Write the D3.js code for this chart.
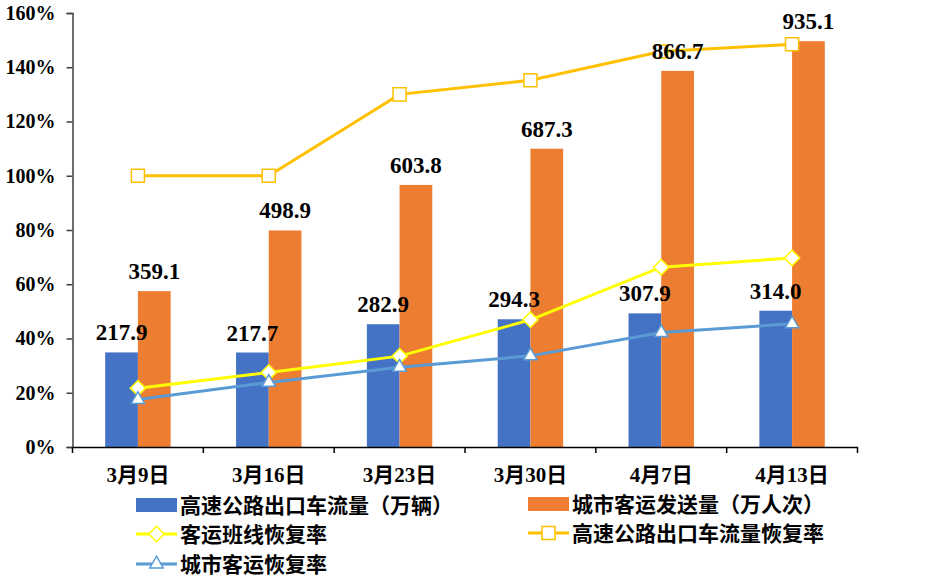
<!DOCTYPE html>
<html>
<head>
<meta charset="utf-8">
<script src="https://cdn.jsdelivr.net/npm/d3@7"></script>
<style>
  body { margin: 0; background: #fff; }
  svg text { font-family: "Times New Roman", "Liberation Serif", "Noto Sans CJK SC", serif; font-weight: bold; fill: #000; }
</style>
</head>
<body>
<svg id="chart" width="946" height="578"></svg>
<script>
const categories = ["3月9日", "3月16日", "3月23日", "3月30日", "4月7日", "4月13日"];
const highwayFlow = [217.9, 217.7, 282.9, 294.3, 307.9, 314.0];       // 高速公路出口车流量（万辆）
const cityPassengers = [359.1, 498.9, 603.8, 687.3, 866.7, 935.1];    // 城市客运发送量（万人次）
const coachRecovery = [0.217, 0.275, 0.335, 0.469, 0.663, 0.697];     // 客运班线恢复率
const highwayRecovery = [1.0, 1.0, 1.3, 1.352, 1.458, 1.485];         // 高速公路出口车流量恢复率
const cityRecovery = [0.175, 0.238, 0.294, 0.336, 0.422, 0.454];      // 城市客运恢复率
const yTicks = [0, 0.2, 0.4, 0.6, 0.8, 1.0, 1.2, 1.4, 1.6];

const svg = d3.select("#chart");
const margin = { top: 13, bottom: 447, left: 72.5, right: 857.5 };

const x = d3.scaleBand().domain(categories).range([margin.left, margin.right]);
const y = d3.scaleLinear().domain([0, 1.6]).range([margin.bottom, margin.top]);
// hidden secondary axis for the bars
const y2 = d3.scaleLinear().domain([0, 1000]).range([margin.bottom, margin.top]);

const barW = x.bandwidth() * 0.25;
const cx = d => x(d) + x.bandwidth() / 2;

// Y axis
const yAxis = svg.append("g")
  .attr("transform", `translate(${margin.left},0)`)
  .call(d3.axisLeft(y).tickValues(yTicks).tickSize(6).tickFormat(d3.format(".0%")));
yAxis.select(".domain").attr("stroke", "#404040").attr("stroke-width", 1.5);
yAxis.selectAll(".tick line").attr("stroke", "#404040").attr("stroke-width", 1.5);
yAxis.selectAll(".tick text")
  .attr("x", -17)
  .style("font-size", "20px")
  .style("font-family", '"Times New Roman", "Liberation Serif", serif');

// Bars
const bars = svg.append("g");
bars.selectAll(".bar-blue")
  .data(categories)
  .enter().append("rect")
  .attr("x", d => cx(d) - barW)
  .attr("y", (d, i) => y2(highwayFlow[i]))
  .attr("width", barW)
  .attr("height", (d, i) => y2(0) - y2(highwayFlow[i]))
  .attr("fill", "#4472C4");
bars.selectAll(".bar-orange")
  .data(categories)
  .enter().append("rect")
  .attr("x", d => cx(d))
  .attr("y", (d, i) => y2(cityPassengers[i]))
  .attr("width", barW)
  .attr("height", (d, i) => y2(0) - y2(cityPassengers[i]))
  .attr("fill", "#ED7D31");

// X axis
const xAxis = svg.append("g")
  .attr("transform", `translate(0,${margin.bottom})`)
  .call(d3.axisBottom(x).tickSize(0).tickFormat(""));
xAxis.select(".domain").attr("stroke", "#000").attr("stroke-width", 1.5);
xAxis.selectAll(".tick").remove();
const bounds = [...categories.map(d => x(d)), margin.right];
xAxis.selectAll(".bound")
  .data(bounds)
  .enter().append("line")
  .attr("x1", d => d).attr("x2", d => d)
  .attr("y1", 0).attr("y2", 6)
  .attr("stroke", "#000").attr("stroke-width", 1.5);
svg.append("g").selectAll("text")
  .data(categories)
  .enter().append("text")
  .attr("x", d => cx(d))
  .attr("y", 482)
  .attr("text-anchor", "middle")
  .style("font-size", "21px")
  .text(d => d);

// Lines with markers
const line = d3.line().x((d, i) => cx(categories[i])).y(d => y(d));
const series = [
  { values: highwayRecovery, color: "#FFC000", marker: "square" },
  { values: coachRecovery, color: "#FFFF00", marker: "diamond" },
  { values: cityRecovery, color: "#5B9BD5", marker: "triangle" }
];
const symbols = {
  square: d3.symbol().type(d3.symbolSquare).size(170),
  diamond: d3.symbol().type(d3.symbolDiamond2).size(150),
  triangle: d3.symbol().type(d3.symbolTriangle2).size(130)
};

series.forEach(s => {
  svg.append("path")
    .datum(s.values)
    .attr("fill", "none")
    .attr("stroke", s.color)
    .attr("stroke-width", 3)
    .attr("d", line);
  svg.append("g").selectAll("path")
    .data(s.values)
    .enter().append("path")
    .attr("transform", (d, i) => `translate(${cx(categories[i])},${y(d)})`)
    .attr("d", symbols[s.marker])
    .attr("fill", "#fff")
    .attr("stroke", s.color)
    .attr("stroke-width", 1.5);
});

// Value labels
const labels = svg.append("g").style("font-size", "23px");
labels.selectAll(".lb")
  .data(categories)
  .enter().append("text")
  .attr("x", d => cx(d) - barW / 2)
  .attr("y", (d, i) => y2(highwayFlow[i]) - 12)
  .attr("text-anchor", "middle")
  .text((d, i) => highwayFlow[i].toFixed(1));
labels.selectAll(".lo")
  .data(categories)
  .enter().append("text")
  .attr("x", d => cx(d) + barW / 2)
  .attr("y", (d, i) => y2(cityPassengers[i]) - 12)
  .attr("text-anchor", "middle")
  .text((d, i) => cityPassengers[i].toFixed(1));

// Legend
const legendItems = [
  { name: "高速公路出口车流量（万辆）", color: "#4472C4", type: "bar", x: 136, y: 505 },
  { name: "城市客运发送量（万人次）", color: "#ED7D31", type: "bar", x: 528, y: 504 },
  { name: "客运班线恢复率", color: "#FFFF00", type: "diamond", x: 136, y: 534 },
  { name: "高速公路出口车流量恢复率", color: "#FFC000", type: "square", x: 528, y: 533 },
  { name: "城市客运恢复率", color: "#5B9BD5", type: "triangle", x: 136, y: 564 }
];
const legend = svg.append("g");
legendItems.forEach(it => {
  const g = legend.append("g").attr("transform", `translate(${it.x},${it.y})`);
  if (it.type === "bar") {
    g.append("rect").attr("x", 0).attr("y", -7).attr("width", 41).attr("height", 14).attr("fill", it.color);
  } else {
    g.append("line").attr("x1", 0).attr("x2", 41).attr("stroke", it.color).attr("stroke-width", 3);
    g.append("path")
      .attr("transform", "translate(20.5,0)")
      .attr("d", symbols[it.type])
      .attr("fill", "#fff")
      .attr("stroke", it.color)
      .attr("stroke-width", 1.5);
  }
  g.append("text")
    .attr("x", 44)
    .attr("dy", "0.36em")
    .style("font-size", "21px")
    .text(it.name);
});
</script>
</body>
</html>
